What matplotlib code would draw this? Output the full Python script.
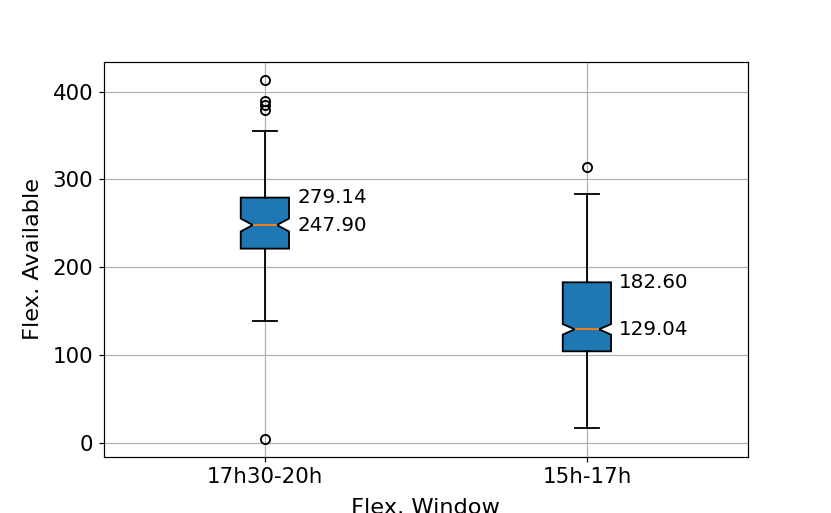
import numpy as np
import matplotlib.pyplot as plt

windows = ['17h30-20h', '15h-17h']
q1 = [221.0, 104.0]
medians = [247.90, 129.04]
q3 = [279.14, 182.60]
whislo = [139.0, 16.5]
whishi = [355.5, 283.5]
ci_lo = [240.5, 123.0]
ci_hi = [255.3, 135.0]
fliers = [[413.7, 389.7, 384.5, 379.5, 4.5], [313.5]]

stats = []
for i in range(len(windows)):
    stats.append({'label': windows[i], 'q1': q1[i], 'med': medians[i], 'q3': q3[i],
                  'whislo': whislo[i], 'whishi': whishi[i],
                  'cilo': ci_lo[i], 'cihi': ci_hi[i], 'fliers': fliers[i]})

fig = plt.figure(figsize=(831 / 110, 513 / 110), dpi=110)
ax = fig.add_subplot(111)
lw = 1.2
ax.bxp(stats, shownotches=True, patch_artist=True,
       boxprops=dict(facecolor='#1f77b4', linewidth=lw),
       medianprops=dict(color='#ff7f0e', linewidth=lw),
       whiskerprops=dict(linewidth=lw), capprops=dict(linewidth=lw),
       flierprops=dict(markeredgewidth=lw))

# label Q3 and median next to each box
for i in range(len(windows)):
    ax.text(i + 1 + 0.1, q3[i], '%.2f' % q3[i], va='center', ha='left', fontsize=13)
    ax.text(i + 1 + 0.1, medians[i], '%.2f' % medians[i], va='center', ha='left', fontsize=13)

ax.set_xlabel('Flex. Window', fontsize=14.7, labelpad=7)
ax.set_ylabel('Flex. Available', fontsize=14.7, labelpad=6)
ax.tick_params(labelsize=14)
ax.grid(True)
plt.savefig('out.png', dpi=110)
